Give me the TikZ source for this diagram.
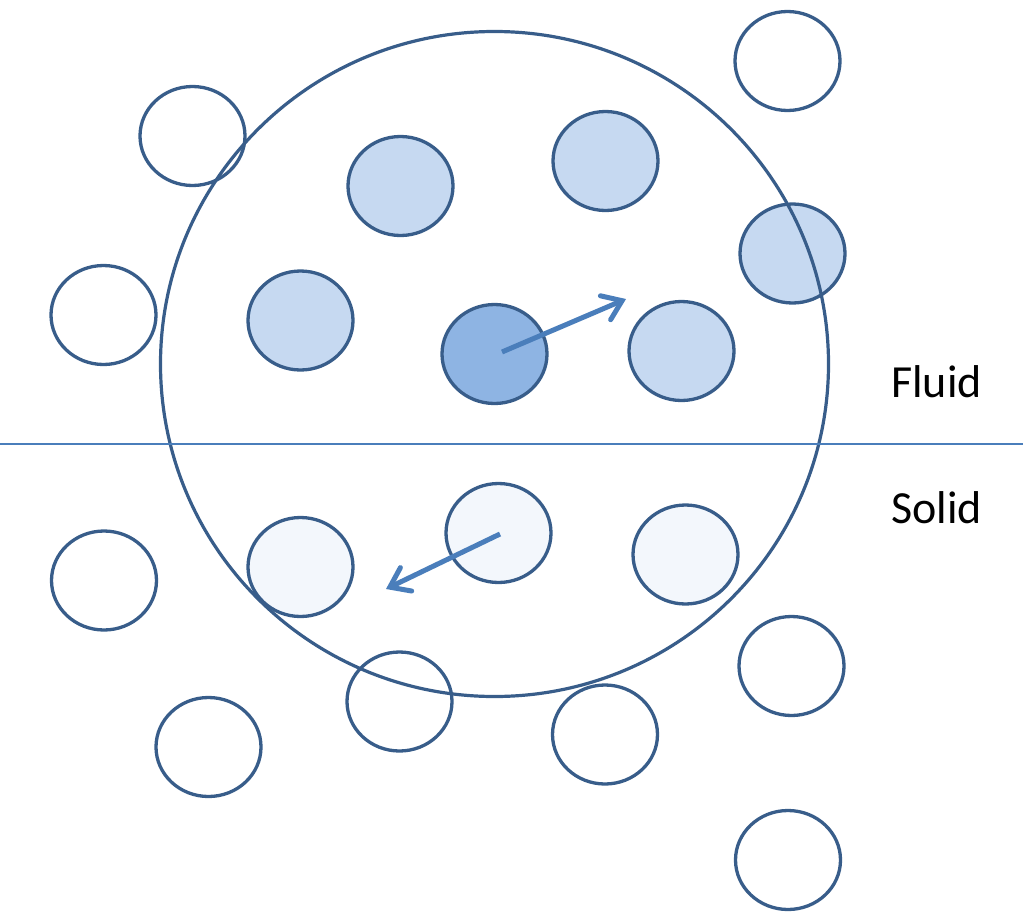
\documentclass[tikz,border=0pt]{standalone}
\usepackage{fontspec}
\setmainfont{Carlito}
\usetikzlibrary{shapes.geometric,arrows.meta}
\definecolor{edgeblue}{HTML}{385D8A}
\definecolor{fillmid}{HTML}{C6D9F1}
\definecolor{filldark}{HTML}{8EB4E3}
\definecolor{filllight}{HTML}{F3F7FC}
\definecolor{arrowblue}{HTML}{4A7EBB}
\begin{document}
\begin{tikzpicture}[x=1pt,y=-1pt,
  ball/.style={ellipse,draw=edgeblue,line width=3.3pt,minimum width=105pt,minimum height=99pt,inner sep=0pt},
  emptyball/.style={ball,fill=white},
  midball/.style={ball,fill=fillmid},
  darkball/.style={ball,fill=filldark},
  lightball/.style={ball,fill=filllight},
  bigball/.style={ellipse,draw=edgeblue,line width=3.2pt,minimum width=668pt,minimum height=665pt,inner sep=0pt},
  motion/.style={draw=arrowblue,line width=5pt,-{Straight Barb[length=18pt,width=26pt,line cap=round]}},
  phase/.style={anchor=base west,inner sep=0pt,font=\fontsize{46}{55}\selectfont}
]
\useasboundingbox (0,0) rectangle (1023,921);
% outside empty particles
\node[emptyball] (e1) at (192.5,136) {};
\node[emptyball] (e2) at (787.5,61) {};
\node[emptyball] (e3) at (103.5,315) {};
\node[emptyball] (e4) at (104,580.5) {};
\node[emptyball] (e5) at (791.5,666) {};
\node[emptyball] (e6) at (208.5,747) {};
\node[emptyball] (e7) at (399.5,701.5) {};
\node[emptyball] (e8) at (605,734.5) {};
\node[emptyball] (e9) at (788,860) {};
% fluid particles
\node[midball] (f1) at (400.5,186) {};
\node[midball] (f2) at (605.5,161) {};
\node[midball] (f3) at (792.5,253.5) {};
\node[midball] (f4) at (300.5,320.5) {};
\node[midball] (f5) at (681.5,351) {};
\node[darkball] (f0) at (494.5,354) {};
% solid particles
\node[lightball] (s1) at (300.5,567) {};
\node[lightball] (s0) at (498.5,533) {};
\node[lightball] (s2) at (685.5,554.5) {};
% interaction domain
\node[bigball] (big) at (494.5,364) {};
% interface
\coordinate (il) at (0,444);
\coordinate (ir) at (1023,444);
\draw[arrowblue,line width=1.6pt] (il) -- (ir);
% motions
\coordinate (t1) at (626,299);
\coordinate (t2) at (386,589);
\draw[motion] ([shift={(7.5,-2)}]f0.center) -- (t1);
\draw[motion] ([shift={(1.5,1)}]s0.center) -- (t2);
% labels
\node[phase] (fluid) at (891,397) {Fluid};
\node[phase] (solid) at (891,523) {Solid};
\end{tikzpicture}
\end{document}
